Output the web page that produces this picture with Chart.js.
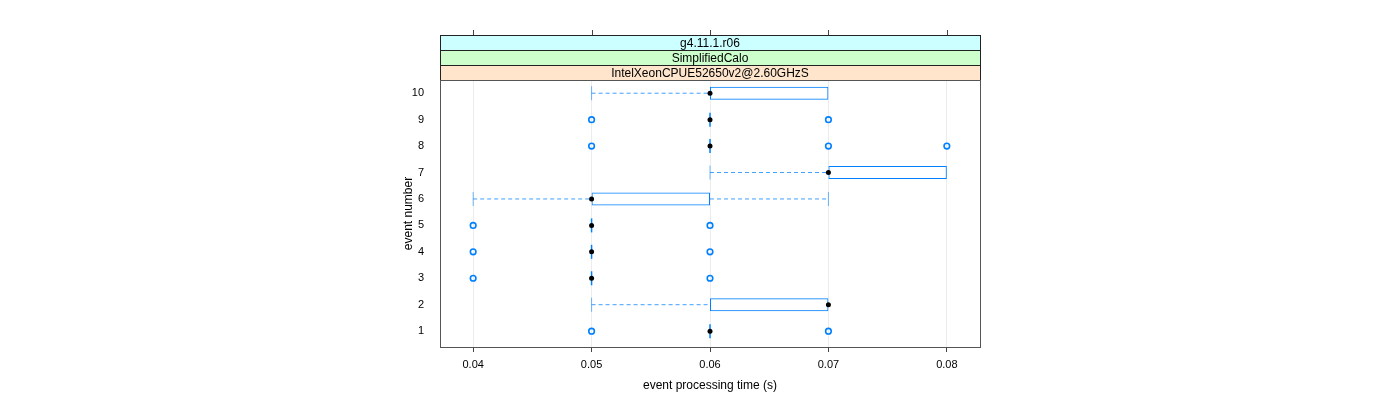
<!DOCTYPE html>
<html>
<head>
<meta charset="utf-8">
<script src="https://cdn.jsdelivr.net/npm/chart.js@4/dist/chart.umd.min.js"></script>
<style>
  html, body { margin: 0; padding: 0; background: #fff; }
  #wrap { width: 1400px; height: 400px; }
</style>
</head>
<body>
<div id="wrap"><canvas id="bw"></canvas></div>
<script>
const events = [1, 2, 3, 4, 5, 6, 7, 8, 9, 10];
const lowWhisk = [0.06, 0.05, 0.05, 0.05, 0.05, 0.04, 0.06, 0.06, 0.06, 0.05];
const q1 = [0.06, 0.06, 0.05, 0.05, 0.05, 0.05, 0.07, 0.06, 0.06, 0.06];
const med = [0.06, 0.07, 0.05, 0.05, 0.05, 0.05, 0.07, 0.06, 0.06, 0.06];
const q3 = [0.06, 0.07, 0.05, 0.05, 0.05, 0.06, 0.08, 0.06, 0.06, 0.07];
const highWhisk = [0.06, 0.07, 0.05, 0.05, 0.05, 0.07, 0.08, 0.06, 0.06, 0.07];
const outliers = [
  [0.05, 0.07], [], [0.04, 0.06], [0.04, 0.06], [0.04, 0.06],
  [], [], [0.05, 0.07, 0.08], [0.05, 0.07], []
];
const xTicks = [0.04, 0.05, 0.06, 0.07, 0.08];
const strips = ['g4.11.1.r06', 'SimplifiedCalo', 'IntelXeonCPUE52650v2@2.60GHzS'];
const stripColors = ['#CCFFFF', '#CCFFCC', '#FFE5CC'];

const blue = '#0080ff';
const font = { family: '"Liberation Sans", Arial, sans-serif', size: 11 };

const boxData = [], flatData = [], medData = [], outData = [], whiskData = [], capData = [];
events.forEach((e, i) => {
  if (q3[i] > q1[i]) boxData.push({ x: [q1[i], q3[i]], y: e });
  else flatData.push({ x: q1[i], y: e });
  medData.push({ x: med[i], y: e });
  outliers[i].forEach(v => outData.push({ x: v, y: e }));
  if (lowWhisk[i] < q1[i]) {
    whiskData.push({ x: lowWhisk[i], y: e }, { x: q1[i], y: e }, { x: null, y: null });
    capData.push({ x: lowWhisk[i], y: e });
  }
  if (highWhisk[i] > q3[i]) {
    whiskData.push({ x: q3[i], y: e }, { x: highWhisk[i], y: e }, { x: null, y: null });
    capData.push({ x: highWhisk[i], y: e });
  }
});

// strips, top ticks and panel frame
const lattice = {
  id: 'lattice',
  afterDraw(chart) {
    const { ctx, chartArea: a, scales } = chart;
    const h = 15;
    ctx.save();
    ctx.strokeStyle = '#444';
    ctx.lineWidth = 1;
    xTicks.forEach(v => {
      const px = Math.round(scales.x.getPixelForValue(v)) + 0.5;
      ctx.beginPath();
      ctx.moveTo(px, a.top - 3 * h - 5);
      ctx.lineTo(px, a.top - 3 * h);
      ctx.stroke();
    });
    strips.forEach((s, i) => {
      const y = a.top - (3 - i) * h;
      ctx.fillStyle = stripColors[i];
      ctx.fillRect(a.left, y, a.right - a.left, h);
      ctx.strokeStyle = '#222';
      ctx.strokeRect(a.left + 0.5, y + 0.5, a.right - a.left, h);
      ctx.fillStyle = '#000';
      ctx.font = '12px "Liberation Sans", Arial, sans-serif';
      ctx.textAlign = 'center';
      ctx.textBaseline = 'middle';
      ctx.fillText(s, (a.left + a.right) / 2, y + h / 2 + 1);
    });
    ctx.strokeStyle = '#555';
    ctx.strokeRect(a.left + 0.5, a.top + 0.5, a.right - a.left, a.bottom - a.top);
    ctx.restore();
  }
};

new Chart(document.getElementById('bw'), {
  type: 'bar',
  data: {
    datasets: [
      { type: 'scatter', data: medData, order: 0, pointRadius: 2.5, pointBackgroundColor: '#000', pointBorderColor: '#000', pointBorderWidth: 0 },
      { type: 'scatter', data: outData, order: 1, pointRadius: 2.8, pointBackgroundColor: 'rgba(0,0,0,0)', pointBorderColor: blue, pointBorderWidth: 1.6 },
      { type: 'bar', indexAxis: 'y', data: boxData, order: 2, barThickness: 13, backgroundColor: 'rgba(0,0,0,0)', borderColor: blue, borderWidth: 1, borderSkipped: false, inflateAmount: 0 },
      { type: 'scatter', data: flatData, order: 3, pointStyle: 'line', rotation: 90, pointRadius: 7, pointBorderColor: blue, pointBorderWidth: 1.5 },
      { type: 'line', data: whiskData, order: 4, borderColor: 'rgba(0,128,255,0.75)', borderWidth: 1, borderDash: [4, 3], pointRadius: 0, spanGaps: false, fill: false },
      { type: 'scatter', data: capData, order: 5, pointStyle: 'line', rotation: 90, pointRadius: 7, pointBorderColor: 'rgba(0,128,255,0.55)', pointBorderWidth: 1 }
    ]
  },
  options: {
    responsive: true,
    maintainAspectRatio: false,
    animation: false,
    indexAxis: 'y',
    layout: { padding: { left: 401, right: 420, top: 80, bottom: 0 } },
    plugins: { legend: { display: false }, tooltip: { enabled: false } },
    scales: {
      x: {
        type: 'linear',
        position: 'bottom',
        min: 0.0372,
        max: 0.0828,
        offset: false,
        afterFit(s) { s.height = 53; },
        border: { display: false },
        grid: { color: '#ececec', tickColor: '#444', tickLength: 5, drawTicks: true, offset: false },
        ticks: {
          font, color: '#000', padding: 6, includeBounds: false, stepSize: 0.01,
          callback: v => v.toFixed(2)
        },
        afterBuildTicks(s) { s.ticks = xTicks.map(v => ({ value: v })); },
        title: { display: true, text: 'event processing time (s)', font: { ...font, size: 12 }, color: '#000', padding: { top: 4, bottom: 7 } }
      },
      y: {
        type: 'linear',
        min: 0.4,
        max: 10.5,
        offset: false,
        afterFit(s) { s.width = 39; },
        border: { display: false },
        grid: { display: false, offset: false },
        ticks: { font, color: '#000', padding: 8, stepSize: 1, includeBounds: false },
        afterBuildTicks(s) { s.ticks = events.map(v => ({ value: v })); },
        title: { display: true, text: 'event number', font: { ...font, size: 12 }, color: '#000', padding: 0 }
      }
    }
  },
  plugins: [lattice]
});
</script>
</body>
</html>
